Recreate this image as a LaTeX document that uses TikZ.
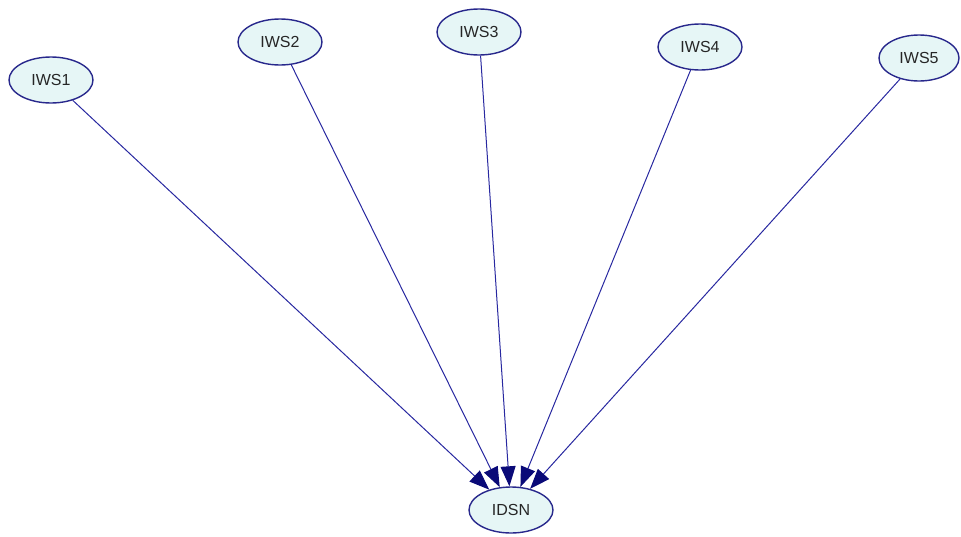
\documentclass[tikz,border=0pt]{standalone}
\usepackage{fontspec}
\setmainfont{Liberation Sans}
\usetikzlibrary{shapes.geometric,arrows.meta}
\definecolor{nodefill}{RGB}{230,246,246}
\definecolor{nodeline}{RGB}{40,40,140}
\definecolor{edgeline}{RGB}{40,40,160}
\definecolor{tipcol}{RGB}{10,10,120}
\tikzset{
  ws/.style={ellipse, draw=nodeline, fill=nodefill, line width=1.4pt,
    minimum width=84pt, minimum height=46pt, inner sep=0pt,
    font=\fontsize{16}{19}\selectfont, text=black!85},
  link/.style={draw=edgeline, line width=1pt,
    -{Triangle[length=20pt,width=15pt,fill=tipcol,color=tipcol]}}
}
\begin{document}
\begin{tikzpicture}[x=1pt,y=-1pt]
\useasboundingbox (0,0) rectangle (961,536);
\node[ws] (IWS1) at (51,80) {IWS1};
\node[ws] (IWS2) at (280,42) {IWS2};
\node[ws] (IWS3) at (479,32) {IWS3};
\node[ws] (IWS4) at (700,47) {IWS4};
\node[ws, minimum width=80pt] (IWS5) at (919,58) {IWS5};
\node[ws] (IDSN) at (511,510) {IDSN};
\draw[link] (IWS1) -- (IDSN);
\draw[link] (IWS2) -- (IDSN);
\draw[link] (IWS3) -- (IDSN);
\draw[link] (IWS4) -- (IDSN);
\draw[link] (IWS5) -- (IDSN);
\end{tikzpicture}
\end{document}
